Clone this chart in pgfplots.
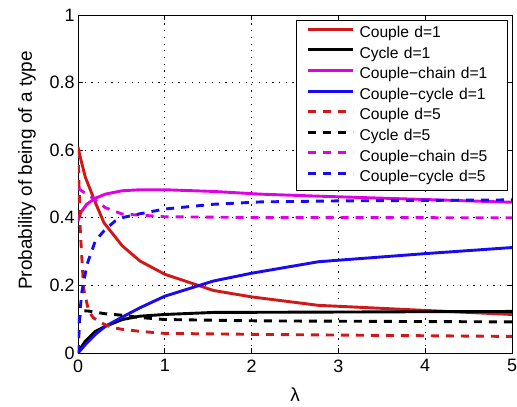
\documentclass[border=0pt]{standalone}
\usepackage{pgfplots}
\pgfplotsset{compat=1.18}
\usepackage{fontspec}
\setmainfont{Liberation Sans}
\definecolor{mred}{RGB}{208,24,24}
\definecolor{mmag}{RGB}{224,0,230}
\definecolor{mblue}{RGB}{25,10,245}
\begin{document}
\begin{tikzpicture}
\begin{axis}[
 scale only axis, width=434bp, height=338bp,
 xmin=0, xmax=5, ymin=0, ymax=1,
 xtick={0,1,2,3,4,5}, ytick={0,0.2,0.4,0.6,0.8,1},
 xticklabels={0,1,2,3,4,5}, yticklabels={0,0.2,0.4,0.6,0.8,1},
 tick align=inside, major tick length=5bp,
 grid=major, grid style={black, line width=0.9bp, dash pattern=on 1.2bp off 5.5bp},
 axis line style={black, line width=0.9bp},
 tick style={black, line width=0.9bp},
 ticklabel style={font=\fontsize{18}{20}\selectfont},
 xticklabel style={yshift=-3bp},
 xlabel={λ}, ylabel={Probability of being of a type},
 label style={font=\fontsize{19}{22}\selectfont},
 xlabel style={at={(axis description cs:0.5,-0.124)}, anchor=center},
 ylabel style={at={(axis description cs:-0.1175,0.54)}, anchor=center},
 legend cell align=left,
 legend style={at={(axis description cs:0.9908,0.985)}, anchor=north east,
   draw=black, line width=0.9bp, fill=white, inner xsep=10bp, inner ysep=5.5bp,
   row sep=6.1bp, font=\fontsize{15.7}{18}\selectfont,
   nodes={inner sep=0pt, text height=11.5bp, text depth=3bp, text width=138bp, align=left},
   /tikz/every odd column/.append style={column sep=5bp}},
 legend image code/.code={\draw[#1, line width=2.9bp] (0bp,4bp) -- (45bp,4bp);},
 every axis plot/.append style={line width=2.9bp},
 dashstyle/.style={dash pattern=on 8bp off 7bp},
]
% Couple d=1
\addplot[mred] table {
0 0.61
0.03 0.575
0.085 0.52
0.2 0.445
0.3 0.385
0.51 0.317
0.715 0.272
1.0 0.233
1.41 0.198
1.56 0.185
2.0 0.166
2.77 0.141
4.0 0.126
5.0 0.114
};
% Cycle d=1
\addplot[black] table {
0 0
0.03 0.014
0.085 0.035
0.2 0.064
0.315 0.079
0.51 0.099
0.715 0.109
1.0 0.114
1.56 0.12
2.77 0.121
5.0 0.123
};
% Couple-chain d=1
\addplot[mmag] table {
0 0.39
0.03 0.415
0.1 0.44
0.2 0.458
0.315 0.47
0.51 0.48
0.715 0.483
1.0 0.483
1.56 0.478
2.1 0.47
2.77 0.464
5.0 0.446
};
% Couple-cycle d=1
\addplot[mblue] table {
0 0
0.085 0.025
0.2 0.055
0.315 0.079
0.5 0.105
0.715 0.134
1.0 0.168
1.56 0.213
2.0 0.236
2.77 0.270
4.0 0.294
5.0 0.312
};
% Couple d=5
\addplot[mred, dashstyle] table {
0 0.6
0.027 0.36
0.065 0.19
0.123 0.124
0.177 0.104
0.3 0.085
0.4 0.075
0.51 0.07
0.715 0.064
1.0 0.058
2.1 0.055
5.0 0.049
};
% Cycle d=5
\addplot[black, dashstyle] table {
0 0
0.015 0.09
0.027 0.119
0.06 0.125
0.123 0.124
0.315 0.116
0.5 0.112
0.715 0.105
1.0 0.099
2.1 0.095
5.0 0.092
};
% Couple-chain d=5
\addplot[mmag, dashstyle] table {
0 0.487
0.16 0.46
0.315 0.43
0.51 0.411
0.715 0.408
1.0 0.403
2.0 0.401
5.0 0.400
};
% Couple-cycle d=5
\addplot[mblue, dashstyle] table {
0 0
0.015 0.104
0.046 0.183
0.104 0.262
0.2 0.332
0.315 0.366
0.43 0.391
0.52 0.401
0.715 0.412
1.0 0.426
1.56 0.44
2.1 0.447
3.0 0.45
5.0 0.453
};
\legend{Couple d=1, Cycle d=1, Couple−chain d=1, Couple−cycle d=1, Couple d=5, Cycle d=5, Couple−chain d=5, Couple−cycle d=5}
\end{axis}
\pgfresetboundingbox
\path ([shift={(-78bp,-54bp)}]current axis.south west) rectangle ([shift={(5bp,15bp)}]current axis.north east);
\end{tikzpicture}
\end{document}
